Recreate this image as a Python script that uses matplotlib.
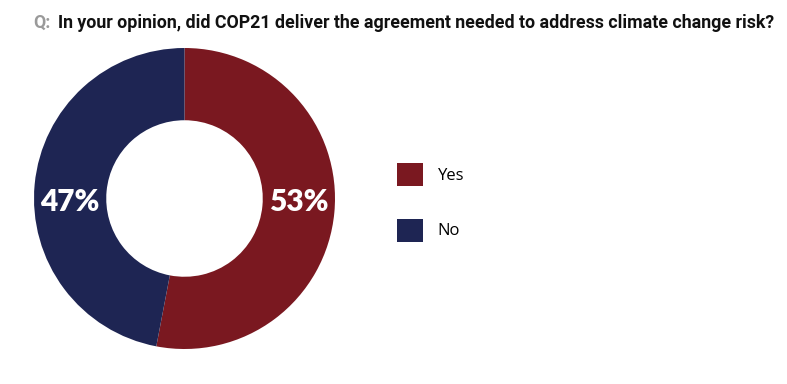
import matplotlib
matplotlib.use("Agg")
import matplotlib.pyplot as plt

labels = ["Yes", "No"]
values = [53, 47]
colors = ["#7a1820", "#1e2553"]
pct_labels = ["53%", "47%"]

title_q = "Q:"
title_text = "In your opinion, did COP21 deliver the agreement needed to address climate change risk?"

W, H = 787, 384
fig = plt.figure(figsize=(W / 100, H / 100), dpi=100)

# donut axes, placed in pixel terms
cx, cy, r = 184.5, 198.5, 150.5
ax = fig.add_axes([(cx - r) / W, (H - cy - r) / H, 2 * r / W, 2 * r / H])
wedges, _ = ax.pie(
    values,
    colors=colors,
    startangle=90,
    counterclock=False,
    radius=1.0,
    wedgeprops=dict(width=0.48, edgecolor="none"),
)
ax.set_xlim(-1, 1)
ax.set_ylim(-1, 1)
ax.set_aspect("equal")
ax.axis("off")

# percent labels sit on the horizontal axis, in the middle of the ring
ring_mid = 1.0 - 0.48 / 2
for x, txt in zip([ring_mid, -ring_mid], pct_labels):
    ax.text(x, -0.02, txt, color="white", fontsize=21.5, fontweight="heavy",
            family="Lato", ha="center", va="center")

fig.text(33 / W, 1 - 28 / H, title_q, color="#9a9a9a", fontsize=12.8,
         fontweight="bold", family="Roboto", va="baseline", ha="left")
fig.text(58 / W, 1 - 28 / H, title_text, color="#111111", fontsize=12.8,
         fontweight="bold", family="Roboto", va="baseline", ha="left")

leg = fig.legend(
    wedges, labels,
    loc="upper left",
    bbox_to_anchor=(397 / W, 1 - 163 / H),
    frameon=False,
    prop={"family": "Open Sans", "size": 12},
    handlelength=1.55,
    handleheight=1.75,
    handletextpad=0.9,
    labelspacing=1.95,
    borderpad=0,
    borderaxespad=0,
)

fig.savefig("out.png", dpi=100, facecolor="white")
